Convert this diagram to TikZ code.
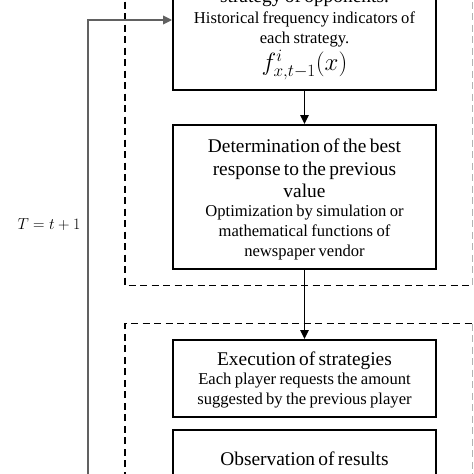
\documentclass[tikz,border=0pt]{standalone}
\usepackage{fontspec}
\setmainfont{Liberation Serif}
\usetikzlibrary{arrows.meta}
\newcommand\fbig{\fontsize{19.4}{22.2}\selectfont}
\newcommand\fsmall{\fontsize{16.6}{19.6}\selectfont}
\newcommand\fsmallb{\fontsize{16.6}{20.6}\selectfont}
\newcommand\fsmallc{\fontsize{16.6}{19.5}\selectfont}
\newcommand\fmath{\fontsize{23}{26.5}\selectfont}
\begin{document}
\begin{tikzpicture}[x=1pt,y=-1pt,
  box/.style={draw, line width=1.8pt, minimum width=263pt, text width=255pt,
    align=center, inner xsep=4pt, inner ysep=5pt},
  frame/.style={line width=1.8pt, dash pattern=on 7pt off 4.5pt},
  flow/.style={line width=1.3pt, -{Triangle[length=9pt,width=8.5pt]}},
  back/.style={line width=1.8pt, draw=black!62, -{Triangle[length=9pt,width=8.5pt]}}]
\useasboundingbox (0,0) rectangle (474,474);
\clip (0,0) rectangle (474,474);

% dashed frames
\draw[frame] (125,-10) -- (125,285.5) -- (472.5,285.5);
\draw[frame, draw=black!30] (472.5,-10) -- (472.5,285.5);
\draw[frame] (125,490) -- (125,323.5) -- (472.5,323.5);
\draw[frame, draw=black!30] (472.5,323.5) -- (472.5,490);

% boxes
\node[box, anchor=south, text height=15pt, text depth=82.5pt] (b1) at (304.5,91)
  {\fbig strategy of opponents.\par
   \fsmallb Historical frequency indicators of\\ each strategy.\par
   \fmath $f^{i}_{x,t-1}(x)$\par};
\node[box, anchor=north, text height=23pt, text depth=111pt] (b2) at (304.5,124)
  {\fbig Determination of the best\\ response to the previous\\ value\par
   \fsmall Optimization by simulation or\\ mathematical functions of\\ newspaper vendor\par};
\node[box, anchor=north, text height=20.3pt, text depth=46.7pt] (b3) at (304.5,339)
  {\fbig Execution of strategies\par
   \fsmallc Each player requests the amount\\ suggested by the previous player\par};
\node[box, anchor=north, text height=31pt, text depth=20pt] (b4) at (304.5,429)
  {\fbig Observation of results\par};

% connectors
\draw[flow] (b1.south) -- (b2.north);
\draw[flow] (b2.south) -- (b3.north);

\coordinate (fbot) at (88,490);
\coordinate (fy) at (0,20);
\draw[back] (fbot) |- (b1.west |- fy);

\node[font=\fontsize{16}{19}\selectfont, scale=0.92] (tlab) at (49,225) {$T = t + 1$};
\end{tikzpicture}
\end{document}
